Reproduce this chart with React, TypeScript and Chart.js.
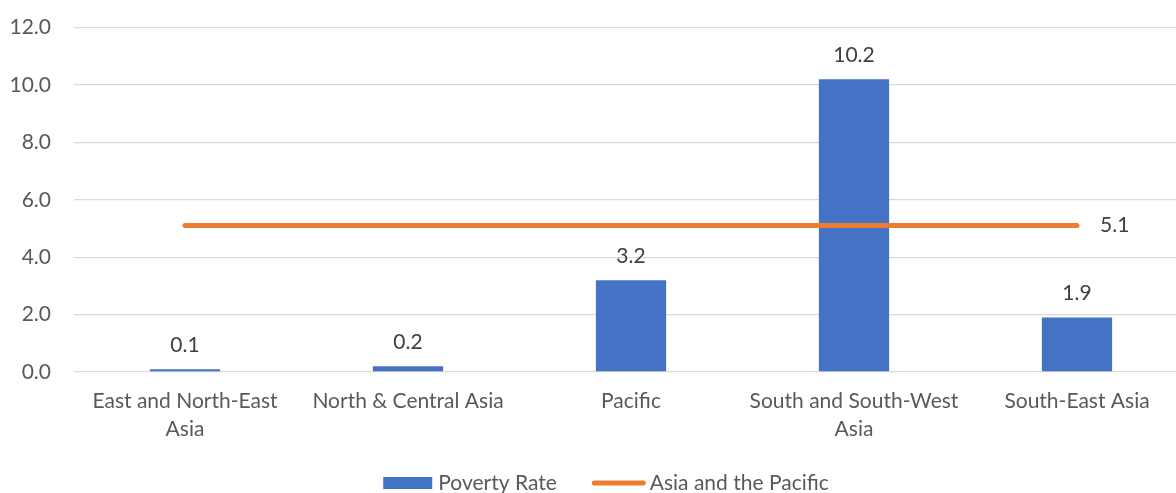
import { useEffect, useRef } from "react";
import { Chart, registerables } from "chart.js";

Chart.register(...registerables);

const categories: (string | string[])[] = [
  ["East and North-East", "Asia"],
  "North & Central Asia",
  "Pacific",
  ["South and South-West", "Asia"],
  "South-East Asia",
];
const povertyRate = [0.1, 0.2, 3.2, 10.2, 1.9];
const regionalAverage = [5.1, 5.1, 5.1, 5.1, 5.1];
const seriesNames = ["Poverty Rate", "Asia and the Pacific"];
const yMin = 0;
const yMax = 12;
const yStep = 2;

const FONT = "Lato";
const FS = 21;
const TICK_COLOR = "#595959";
const LABEL_COLOR = "#404040";
const BAR_COLOR = "#4472C4";
const LINE_COLOR = "#ED7D31";

const valueLabels = {
  id: "valueLabels",
  afterDatasetsDraw(chart: any) {
    const ctx = chart.ctx;
    ctx.save();
    ctx.font = `${FS}px ${FONT}`;
    ctx.fillStyle = LABEL_COLOR;
    ctx.textAlign = "center";
    ctx.textBaseline = "alphabetic";
    const barMeta = chart.getDatasetMeta(0);
    barMeta.data.forEach((el: any, i: number) => {
      ctx.fillText(povertyRate[i].toFixed(1), el.x, el.y - 17);
    });
    const lineMeta = chart.getDatasetMeta(1);
    const li = lineMeta.data.length - 1;
    const last = lineMeta.data[li];
    ctx.textAlign = "left";
    ctx.textBaseline = "middle";
    ctx.fillText(regionalAverage[li].toFixed(1), last.x + 23, last.y);
    ctx.restore();
  },
};

const customLegend = {
  id: "customLegend",
  afterDraw(chart: any) {
    const ctx = chart.ctx;
    ctx.save();
    ctx.font = `${FS}px ${FONT}`;
    const y = 483;
    const boxW = 49;
    const boxH = 12;
    const lineW = 54;
    const gapBar = 6;
    const gapLine = 4;
    const itemGap = 35;
    const t0 = ctx.measureText(seriesNames[0]).width;
    const t1 = ctx.measureText(seriesNames[1]).width;
    const total = boxW + gapBar + t0 + itemGap + lineW + gapLine + t1;
    let x = chart.width / 2 - 4 - total / 2;
    ctx.fillStyle = BAR_COLOR;
    ctx.fillRect(x, y - boxH / 2, boxW, boxH);
    x += boxW + gapBar;
    ctx.fillStyle = TICK_COLOR;
    ctx.textAlign = "left";
    ctx.textBaseline = "middle";
    ctx.fillText(seriesNames[0], x, y);
    x += t0 + itemGap;
    ctx.strokeStyle = LINE_COLOR;
    ctx.lineWidth = 5;
    ctx.lineCap = "round";
    ctx.beginPath();
    ctx.moveTo(x + 2.5, y);
    ctx.lineTo(x + lineW - 2.5, y);
    ctx.stroke();
    x += lineW + gapLine;
    ctx.fillText(seriesNames[1], x, y);
    ctx.restore();
  },
};

export default function App() {
  const ref = useRef<HTMLCanvasElement | null>(null);
  useEffect(() => {
    if (!ref.current) return;
    const chart = new Chart(ref.current, {
      type: "bar",
      data: {
        labels: categories as any,
        datasets: [
          {
            type: "bar",
            label: seriesNames[0],
            data: povertyRate,
            backgroundColor: BAR_COLOR,
            borderWidth: 0,
            barPercentage: 0.315,
            categoryPercentage: 1,
            order: 1,
          },
          {
            type: "line",
            label: seriesNames[1],
            data: regionalAverage,
            borderColor: LINE_COLOR,
            backgroundColor: LINE_COLOR,
            borderWidth: 5,
            borderCapStyle: "round",
            pointRadius: 0,
            pointHoverRadius: 0,
            fill: false,
            order: 0,
          } as any,
        ],
      },
      options: {
        animation: false,
        responsive: false,
        devicePixelRatio: 1,
        layout: { padding: { top: 27.5, right: 31.5, bottom: 0, left: 0 } },
        plugins: {
          legend: { display: false },
          tooltip: { enabled: false },
        },
        scales: {
          x: {
            grid: { display: false, drawTicks: false },
            border: { display: false },
            ticks: {
              color: TICK_COLOR,
              font: { family: FONT, size: FS, lineHeight: 28 / FS },
              padding: 15,
              maxRotation: 0,
              autoSkip: false,
            },
            afterFit(scale: any) {
              scale.height = 121;
            },
          },
          y: {
            min: yMin,
            max: yMax,
            grid: {
              color: "#D9D9D9",
              lineWidth: 1.3,
              drawTicks: true,
              tickLength: 22.5,
              tickColor: "rgba(0,0,0,0)",
            },
            border: { display: false },
            ticks: {
              stepSize: yStep,
              color: TICK_COLOR,
              font: { family: FONT, size: FS },
              padding: 0,
              callback: (v: any) => Number(v).toFixed(1),
            },
            afterFit(scale: any) {
              scale.width = 73.5;
            },
          },
        },
      },
      plugins: [valueLabels, customLegend],
    });
    return () => chart.destroy();
  }, []);
  return (
    <div
      style={{
        position: "fixed",
        left: 0,
        top: 0,
        width: 1176,
        height: 493,
        overflow: "hidden",
        background: "#fff",
      }}
    >
      <canvas ref={ref} width={1220} height={493} style={{ width: 1220, height: 493, display: "block" }} />
    </div>
  );
}
